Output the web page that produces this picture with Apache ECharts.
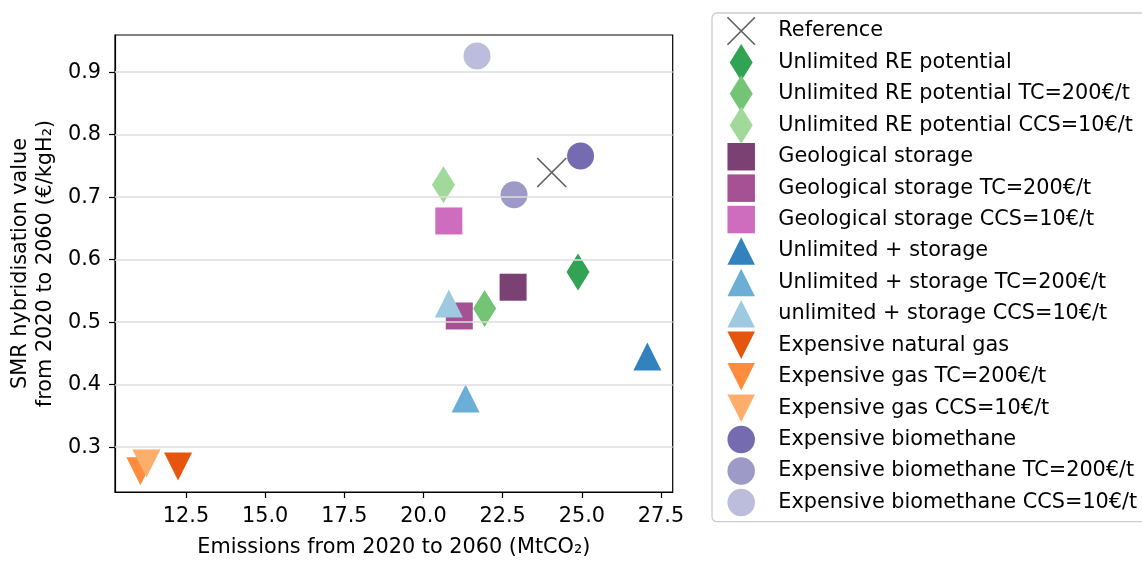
<!DOCTYPE html>
<html><head><meta charset="utf-8">
<script src="https://cdn.jsdelivr.net/npm/echarts@6/dist/echarts.min.js"></script>
<style>html,body{margin:0;padding:0;background:#fff}#c{width:1142px;height:563px}</style>
</head><body><div id="c"></div>
<script>
// ---- data ----
const seriesNames = [
  'Reference',
  'Unlimited RE potential',
  'Unlimited RE potential TC=200€/t',
  'Unlimited RE potential CCS=10€/t',
  'Geological storage',
  'Geological storage TC=200€/t',
  'Geological storage CCS=10€/t',
  'Unlimited + storage',
  'Unlimited + storage TC=200€/t',
  'unlimited + storage CCS=10€/t',
  'Expensive natural gas',
  'Expensive gas TC=200€/t',
  'Expensive gas CCS=10€/t',
  'Expensive biomethane',
  'Expensive biomethane TC=200€/t',
  'Expensive biomethane CCS=10€/t'
];
const emissions = [24.05, 24.88, 21.93, 20.63, 22.83, 21.13, 20.80, 27.07, 21.33, 20.80, 12.25, 11.06, 11.25, 24.96, 22.86, 21.69];
const hybridValue = [0.7395, 0.5805, 0.522, 0.720, 0.556, 0.510, 0.662, 0.445, 0.378, 0.530, 0.269, 0.2616, 0.274, 0.766, 0.704, 0.926];
const xTicks = [12.5, 15.0, 17.5, 20.0, 22.5, 25.0, 27.5];
const yTicks = [0.3, 0.4, 0.5, 0.6, 0.7, 0.8, 0.9];
const xRange = [10.258, 27.87];
const yRange = [0.2284, 0.9595];

// ---- styles ----
const colors = ['#5f5f5f', '#31a354', '#74c476', '#a1d99b', '#7b4173', '#a55194', '#ce6dbd',
  '#3182bd', '#6baed6', '#9ecae1', '#e6550d', '#fd8d3c', '#fdae6b', '#756bb1', '#9e9ac8', '#bcbddc'];
const markerKinds = ['x', 'd', 'd', 'd', 's', 's', 's', '^', '^', '^', 'v', 'v', 'v', 'o', 'o', 'o'];
const markerDefs = {
  x: { symbol: 'path://M0,0L10,10M10,0L0,10', size: [29, 29], icon: 'path://M0,0L10,10M10,0L0,10' },
  d: { symbol: 'diamond', size: [23, 37], icon: 'path://M11.5,0L23,18.5L11.5,37L0,18.5Z' },
  s: { symbol: 'rect', size: [27, 27], icon: 'path://M0,0H10V10H0Z' },
  '^': { symbol: 'triangle', size: [28, 28], icon: 'path://M14,0L28,28L0,28Z' },
  v: { symbol: 'path://M0,0L28,0L14,28Z', size: [28, 28], icon: 'path://M0,0L28,0L14,28Z' },
  o: { symbol: 'circle', size: 27, icon: 'path://M0,10A10,10 0 1,1 20,10A10,10 0 1,1 0,10Z' }
};
const FS = 20.8;
const FONT = 'DejaVu Sans';

const series = seriesNames.map((name, i) => {
  const m = markerDefs[markerKinds[i]];
  const isX = markerKinds[i] === 'x';
  return {
    name, type: 'scatter',
    data: [[emissions[i], hybridValue[i]]],
    symbol: m.symbol, symbolSize: m.size,
    itemStyle: isX ? { color: 'rgba(0,0,0,0)', borderColor: colors[i], borderWidth: 1.7, opacity: 1 }
                   : { color: colors[i], opacity: 1 },
    emphasis: { disabled: true }
  };
});

const legendData = seriesNames.map((name, i) => {
  const m = markerDefs[markerKinds[i]];
  const isX = markerKinds[i] === 'x';
  return {
    name, icon: m.icon,
    itemStyle: isX ? { color: 'rgba(0,0,0,0)', borderColor: colors[i], borderWidth: 1.7 }
                   : { color: colors[i], borderWidth: 0 }
  };
});

const chart = echarts.init(document.getElementById('c'), null, { renderer: 'canvas' });
chart.setOption({
  animation: false,
  backgroundColor: '#ffffff',
  textStyle: { fontFamily: FONT },
  grid: { left: 115, right: 469.3, top: 35, bottom: 66.3, show: true, borderColor: '#000', borderWidth: 1.2, backgroundColor: 'rgba(0,0,0,0)' },
  xAxis: {
    type: 'value', min: xRange[0], max: xRange[1],
    name: 'Emissions from 2020 to 2060 (MtCO₂)', nameLocation: 'middle', nameGap: 45,
    nameTextStyle: { fontSize: FS, color: '#000', fontFamily: FONT },
    axisLine: { show: true, onZero: false, lineStyle: { color: '#000', width: 1.2 } },
    axisTick: { show: true, inside: false, length: 6, customValues: xTicks, lineStyle: { color: '#000', width: 1.2 } },
    axisLabel: { customValues: xTicks, margin: 14.5, fontSize: FS, color: '#000', fontFamily: FONT,
      formatter: v => v.toFixed(1) },
    splitLine: { show: false }
  },
  yAxis: {
    type: 'value', min: yRange[0], max: yRange[1],
    name: 'SMR hybridisation value\nfrom 2020 to 2060 (€/kgH₂)', nameLocation: 'middle', nameGap: 57, nameRotate: 90,
    nameTextStyle: { fontSize: FS, lineHeight: 25, color: '#000', fontFamily: FONT, align: 'center' },
    axisLine: { show: true, onZero: false, lineStyle: { color: '#000', width: 1.2 } },
    axisTick: { show: true, inside: false, length: 6, customValues: yTicks, lineStyle: { color: '#000', width: 1.2 } },
    axisLabel: { customValues: yTicks, margin: 14, fontSize: FS, color: '#000', fontFamily: FONT,
      formatter: v => v.toFixed(1) },
    splitLine: { show: false }
  },
  legend: {
    orient: 'vertical', left: 726.6, top: 12.5, padding: 0,
    itemWidth: 27.5, itemHeight: 37, itemGap: -5.57,
    symbolKeepAspect: true, selectedMode: false, symbolRotate: 0,
    textStyle: { fontSize: FS, lineHeight: 37, height: 37, color: '#000', fontFamily: FONT, padding: [0, 0, 0, 18.4] },
    data: legendData
  },
  graphic: [{
    type: 'rect', z: 0, silent: true,
    shape: { x: 712, y: 13, width: 460, height: 508.7, r: 5 },
    style: { fill: '#fff', stroke: '#cccccc', lineWidth: 1.3 }
  }],
  series: [
    {
      type: 'scatter', data: [], silent: true, z: 1,
      markLine: {
        silent: true, symbol: 'none', label: { show: false },
        lineStyle: { color: '#dcdcdc', width: 1.5, type: 'solid' },
        data: yTicks.map(v => ({ yAxis: v }))
      }
    },
    ...series
  ]
});
</script>
</body></html>
